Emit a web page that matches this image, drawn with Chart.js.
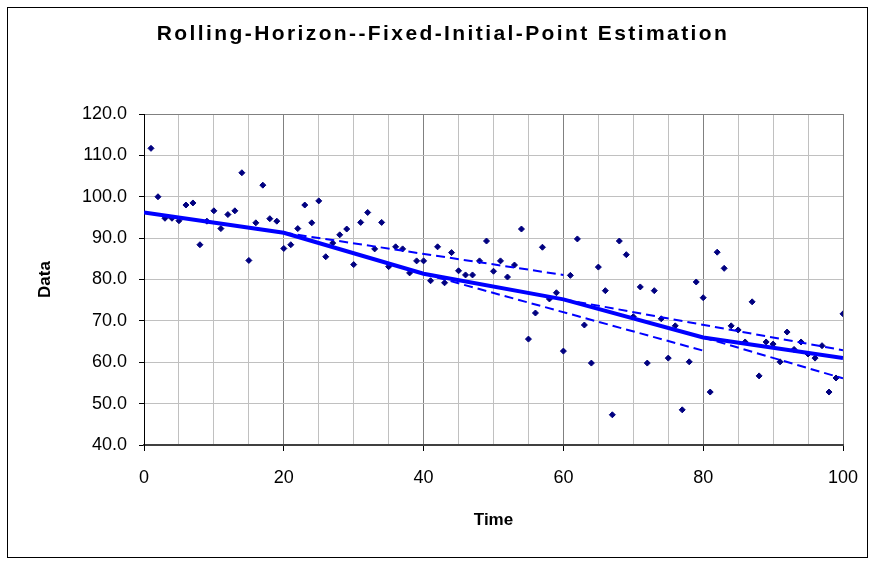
<!DOCTYPE html>
<html>
<head>
<meta charset="utf-8">
<script src="https://cdn.jsdelivr.net/npm/chart.js@4.4.1/dist/chart.umd.min.js"></script>
<style>
  html, body { margin: 0; padding: 0; background: #fff; }
  #wrap { width: 875px; height: 565px; }
</style>
</head>
<body>
<div id="wrap"><canvas id="c" width="875" height="565"></canvas></div>
<script>
// Observations
const time = [
  1, 2, 3, 4, 5, 6, 7, 8, 9, 10, 11, 12, 13, 14, 15, 16, 17, 18, 19, 20,
  21, 22, 23, 24, 25, 26, 27, 28, 29, 30, 31, 32, 33, 34, 35, 36, 37, 38, 39, 40,
  41, 42, 43, 44, 45, 46, 47, 48, 49, 50, 51, 52, 53, 54, 55, 56, 57, 58, 59, 60,
  61, 62, 63, 64, 65, 66, 67, 68, 69, 70, 71, 72, 73, 74, 75, 76, 77, 78, 79, 80,
  81, 82, 83, 84, 85, 86, 87, 88, 89, 90, 91, 92, 93, 94, 95, 96, 97, 98, 99, 100
];
const observed = [
  111.7, 100.0, 94.8, 94.8, 94.2, 98.0, 98.5, 88.4, 94.1, 96.6,
  92.3, 95.7, 96.6, 105.8, 84.6, 93.7, 102.8, 94.7, 94.1, 87.5,
  88.4, 92.3, 98.0, 93.7, 99.0, 85.5, 88.8, 90.8, 92.2, 83.6,
  93.8, 96.2, 87.4, 93.8, 83.1, 87.9, 87.4, 81.6, 84.5, 84.5,
  79.7, 87.9, 79.2, 86.5, 82.1, 81.1, 81.1, 84.5, 89.3, 82.0,
  84.5, 80.6, 83.5, 92.2, 65.6, 71.9, 87.8, 75.3, 76.8, 62.7,
  81.0, 89.8, 69.0, 59.8, 83.0, 77.3, 47.3, 89.3, 86.0, 71.0,
  78.2, 59.8, 77.3, 70.5, 61.0, 68.8, 48.5, 60.1, 79.4, 75.6,
  52.8, 86.6, 82.7, 68.8, 67.8, 64.9, 74.6, 56.7, 64.9, 64.4,
  60.1, 67.3, 63.1, 64.9, 62.0, 61.0, 64.0, 52.8, 56.2, 71.7
];

// Rolling-horizon estimate (solid) at the horizon break points
const horizonTime = [0, 20, 40, 60, 80, 100];
const horizonEstimate = [96.2, 91.3, 81.4, 75.2, 66.0, 61.0];

// Individual window fits (dashed), each anchored at its initial point
const windowStart = [20, 40, 60, 80];
const windowEnd = [60, 80, 100, 100];
const windowStartValue = [91.3, 81.4, 75.2, 66.0];
const windowEndValue = [81.1, 62.8, 62.9, 56.1];

// Axis ticks
const yTicks = [40, 50, 60, 70, 80, 90, 100, 110, 120];
const xLabelled = [0, 20, 40, 60, 80, 100];

const chartTitle = 'Rolling-Horizon--Fixed-Initial-Point Estimation';
const xTitle = 'Time';
const yTitle = 'Data';

const FONT = '"Liberation Sans", Arial, sans-serif';

const datasets = [];

datasets.push({
  label: 'Estimate',
  data: horizonTime.map((t, i) => ({ x: t, y: horizonEstimate[i] })),
  showLine: true,
  borderColor: '#0000FF',
  borderWidth: 4,
  pointRadius: 0,
  fill: false,
  tension: 0,
  order: 0
});

windowStart.forEach((t0, i) => {
  datasets.push({
    label: 'Window ' + (i + 1),
    data: [{ x: t0, y: windowStartValue[i] }, { x: windowEnd[i], y: windowEndValue[i] }],
    showLine: true,
    borderColor: '#0000FF',
    borderWidth: 2,
    borderDash: [9, 5],
    pointRadius: 0,
    fill: false,
    order: 0
  });
});

datasets.push({
  label: 'Data',
  data: time.map((t, i) => ({ x: t, y: observed[i] })),
  showLine: false,
  pointStyle: 'rectRot',
  pointRadius: 3,
  pointBorderWidth: 1,
  backgroundColor: '#000080',
  borderColor: '#000080',
  order: 1
});

// White page, outer frame and the chart heading
const framePlugin = {
  id: 'frame',
  beforeDraw(chart) {
    const c = chart.ctx;
    c.save();
    c.fillStyle = '#ffffff';
    c.fillRect(0, 0, chart.width, chart.height);
    c.strokeStyle = '#000000';
    c.lineWidth = 1;
    c.strokeRect(7.5, 7.5, 860, 550);
    c.restore();
  },
  afterDraw(chart) {
    const c = chart.ctx;
    c.save();
    c.font = 'bold 21px ' + FONT;
    c.letterSpacing = '2.4px';
    c.textAlign = 'center';
    c.textBaseline = 'middle';
    c.fillStyle = '#000000';
    c.fillText(chartTitle, 443, 34);
    c.restore();
  }
};

new Chart(document.getElementById('c'), {
  type: 'scatter',
  data: { datasets },
  plugins: [framePlugin],
  options: {
    responsive: false,
    animation: false,
    devicePixelRatio: 1,
    layout: { padding: { top: 114, right: 32, left: 0, bottom: 0 } },
    plugins: {
      legend: { display: false },
      tooltip: { enabled: false },
      title: { display: false }
    },
    scales: {
      x: {
        type: 'linear',
        min: 0,
        max: 100,
        afterFit(scale) { scale.height = 120; },
        afterBuildTicks(scale) {
          const t = [];
          for (let v = 0; v <= 100; v += 5) t.push({ value: v });
          scale.ticks = t;
        },
        ticks: {
          autoSkip: false,
          maxRotation: 0,
          padding: 16,
          color: '#000',
          font: { family: FONT, size: 18 },
          callback: v => (xLabelled.includes(v) ? String(v) : '')
        },
        grid: {
          color: c => (c.tick && c.tick.value % 20 === 0 ? '#808080' : '#c0c0c0'),
          lineWidth: 1,
          tickLength: 6,
          tickColor: c => (c.tick && c.tick.value % 20 === 0 ? '#000000' : 'rgba(0,0,0,0)')
        },
        border: { display: true, color: '#404040', width: 2 },
        title: {
          display: true,
          text: xTitle,
          color: '#000',
          font: { family: FONT, size: 17, weight: 'bold' },
          padding: { top: 0, bottom: 34 }
        }
      },
      y: {
        type: 'linear',
        min: 40,
        max: 120,
        afterFit(scale) { scale.width = 144; },
        afterBuildTicks(scale) { scale.ticks = yTicks.map(v => ({ value: v })); },
        ticks: {
          padding: 12,
          color: '#000',
          font: { family: FONT, size: 18 },
          callback: v => Number(v).toFixed(1)
        },
        grid: {
          color: c => (c.tick && c.tick.value === 120 ? '#808080' : '#c0c0c0'),
          lineWidth: 1,
          tickLength: 5,
          tickColor: '#000000'
        },
        border: { display: true, color: '#000000', width: 1 },
        title: {
          display: true,
          text: yTitle,
          color: '#000',
          font: { family: FONT, size: 17, weight: 'bold' },
          padding: { top: 35, bottom: 0 }
        }
      }
    }
  }
});
</script>
</body>
</html>
